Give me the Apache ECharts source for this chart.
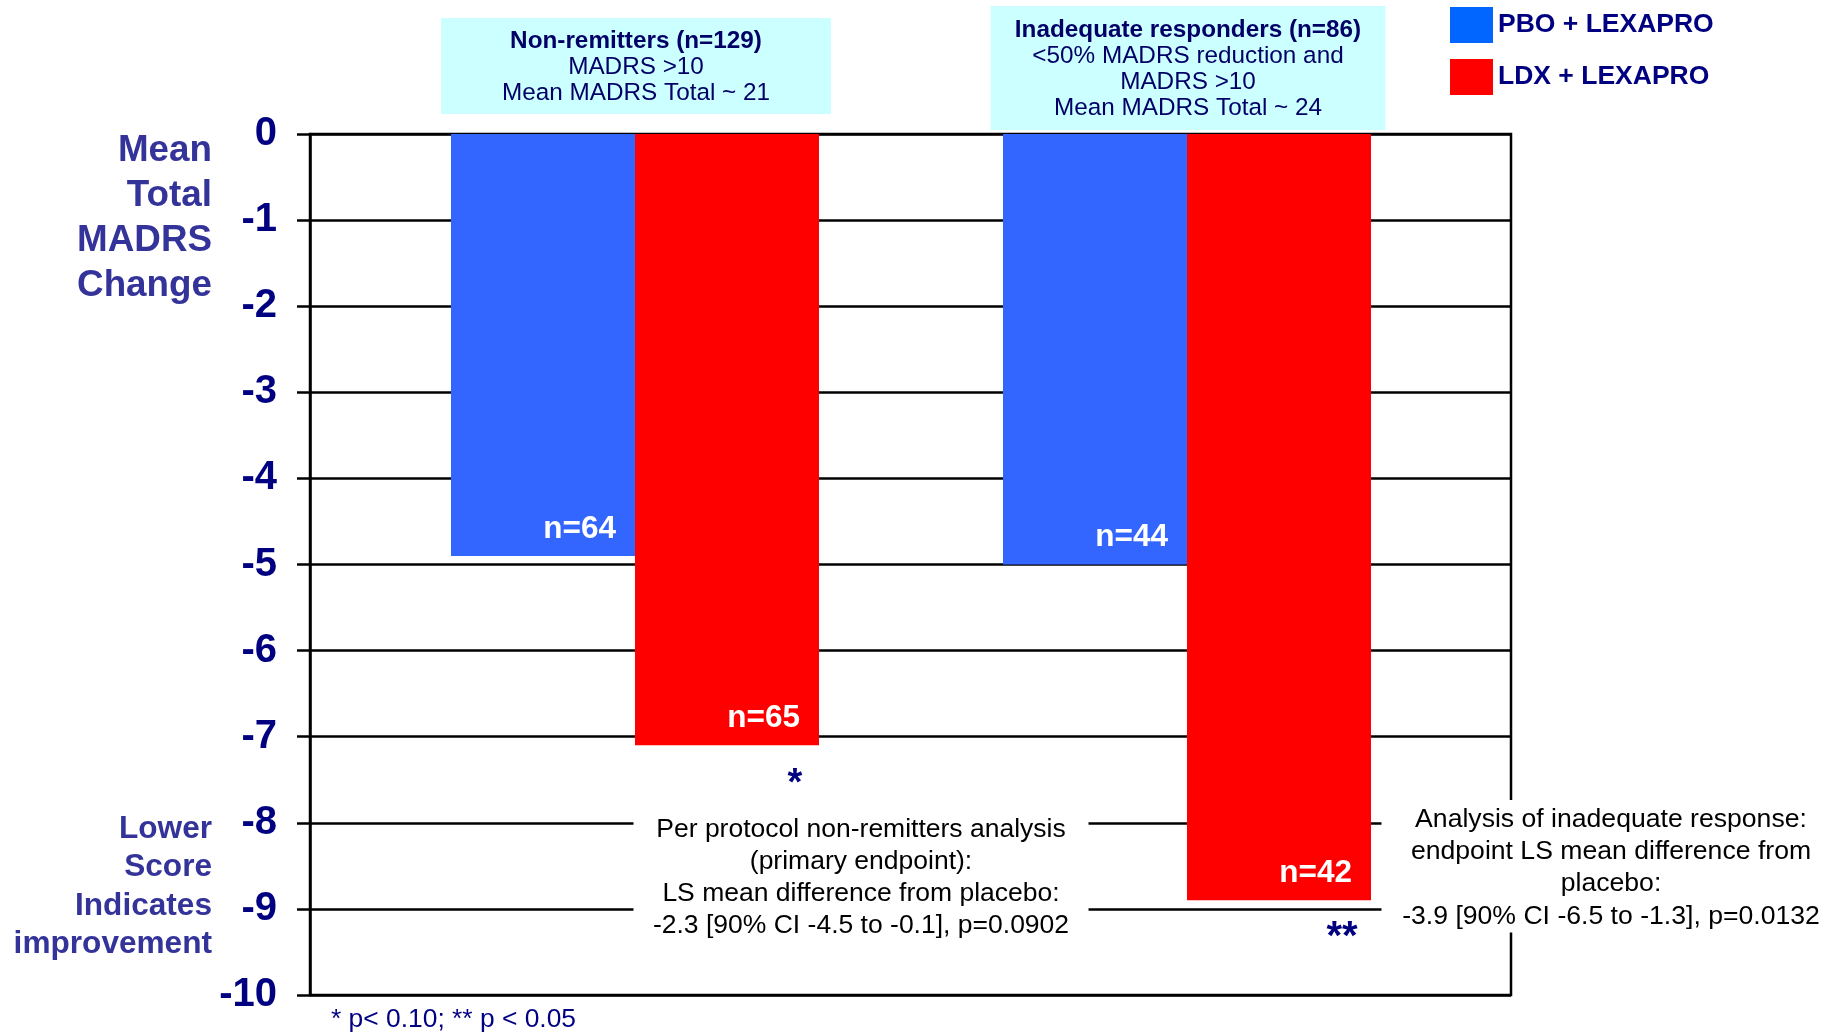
<!DOCTYPE html>
<html>
<head>
<meta charset="utf-8">
<title>Mean Total MADRS Change</title>
<script src="https://cdn.jsdelivr.net/npm/echarts@6/dist/echarts.min.js"></script>
<style>
  html, body { margin: 0; padding: 0; background: #fff; }
  #chart { width: 1833px; height: 1033px; }
</style>
</head>
<body>
<div id="chart"></div>
<script>
// data
const categories = ['Non-remitters', 'Inadequate responders']
const seriesNames = ['PBO + LEXAPRO', 'LDX + LEXAPRO']
const pboValues = [-4.9, -5.0]
const ldxValues = [-7.1, -8.9]
const pboCounts = [64, 44]
const ldxCounts = [65, 42]
const yMin = -10
const yMax = 0
const yStep = 1

const font = '"Liberation Sans", Arial, sans-serif'
const navy = '#000080'
const nameBlue = '#333399'
const barBlue = '#3366ff'
const legendBlue = '#0066ff'
const red = '#ff0000'

const chart = echarts.init(document.getElementById('chart'))

function barLabel(counts) {
  return {
    show: true,
    position: 'insideBottomRight',
    distance: 11,
    offset: [-8, 0],
    color: '#fff',
    fontFamily: font,
    fontWeight: 'bold',
    fontSize: 31.5,
    formatter: p => 'n=' + counts[p.dataIndex]
  }
}

function textBox(x, y, text, opts) {
  return {
    type: 'text',
    x: x,
    y: y,
    z: 100,
    style: Object.assign({
      text: text,
      align: 'center',
      verticalAlign: 'top',
      fontFamily: font,
      fill: '#000'
    }, opts)
  }
}

const boxRich = { b: { fontWeight: 'bold', fontSize: 24.3, lineHeight: 26, fill: '#000066', fontFamily: font } }

const option = {
  backgroundColor: '#fff',
  animation: false,
  textStyle: { fontFamily: font },
  legend: {
    orient: 'vertical',
    left: 1445,
    top: 2,
    itemWidth: 43,
    itemHeight: 36,
    itemGap: 16,
    icon: 'rect',
    textStyle: { color: navy, fontSize: 26.5, fontWeight: 'bold', fontFamily: font },
    data: [
      { name: seriesNames[0], itemStyle: { color: legendBlue } },
      { name: seriesNames[1], itemStyle: { color: red } }
    ]
  },
  grid: [
    // frame with gridlines
    { left: 310, right: 322, top: 134, bottom: 38, show: true, borderColor: '#000', borderWidth: 2.5, backgroundColor: 'transparent' },
    // bars
    { left: 359, right: 370, top: 134, bottom: 38 }
  ],
  xAxis: [
    { gridIndex: 0, type: 'value', min: 0, max: 1, show: false },
    { gridIndex: 1, type: 'category', data: categories, show: false }
  ],
  yAxis: [
    {
      gridIndex: 0,
      type: 'value',
      min: yMin,
      max: yMax,
      interval: yStep,
      axisLine: { show: true, lineStyle: { color: '#000', width: 2.5 } },
      axisTick: { show: true, inside: false, length: 13, lineStyle: { color: '#000', width: 2.5 } },
      splitLine: { show: true, lineStyle: { color: '#000', width: 2.5 } },
      axisLabel: { color: navy, fontSize: 40, fontWeight: 'bold', fontFamily: font, margin: 33, padding: [6, 0, 0, 0] }
    },
    { gridIndex: 1, type: 'value', min: yMin, max: yMax, show: false }
  ],
  series: [
    {
      name: seriesNames[0],
      type: 'bar',
      xAxisIndex: 1,
      yAxisIndex: 1,
      data: pboValues,
      barWidth: 184,
      barGap: '0%',
      itemStyle: { color: barBlue },
      label: barLabel(pboCounts)
    },
    {
      name: seriesNames[1],
      type: 'bar',
      xAxisIndex: 1,
      yAxisIndex: 1,
      data: ldxValues,
      barWidth: 184,
      barGap: '0%',
      itemStyle: { color: red },
      label: barLabel(ldxCounts)
    }
  ],
  graphic: [
    textBox(636, 18, '{b|Non-remitters (n=129)}\nMADRS >10\nMean MADRS Total ~ 21', {
      width: 390, padding: [10, 0, 8, 0], backgroundColor: '#ccffff',
      fill: '#000066', fontSize: 24.3, lineHeight: 26, rich: boxRich
    }),
    textBox(1188, 6, '{b|Inadequate responders (n=86)}\n<50% MADRS reduction and\nMADRS >10\nMean MADRS Total ~ 24', {
      width: 395, padding: [11, 0, 9, 0], backgroundColor: '#ccffff',
      fill: '#000066', fontSize: 24.3, lineHeight: 26, rich: boxRich
    }),
    textBox(212, 128, 'Mean\nTotal\nMADRS\nChange', {
      align: 'right', fill: nameBlue, fontSize: 36.8, fontWeight: 'bold', lineHeight: 45
    }),
    textBox(212, 810, 'Lower\nScore\nIndicates\nimprovement', {
      align: 'right', fill: nameBlue, fontSize: 31.6, fontWeight: 'bold', lineHeight: 38.5
    }),
    textBox(861, 803, 'Per protocol non-remitters analysis\n(primary endpoint):\nLS mean difference from placebo:\n-2.3 [90% CI -4.5 to -0.1], p=0.0902', {
      width: 455, padding: [11, 0, 9, 0], backgroundColor: '#fff',
      fontSize: 26.5, lineHeight: 32
    }),
    textBox(1611, 800, 'Analysis of inadequate response:\nendpoint LS mean difference from\nplacebo:\n-3.9 [90% CI -6.5 to -1.3], p=0.0132', {
      width: 459, padding: [3, 0, 0, 0], backgroundColor: '#fff',
      fontSize: 26.6, lineHeight: 32.4
    }),
    textBox(795, 766, '*', { fill: navy, fontSize: 38, fontWeight: 'bold' }),
    textBox(1342, 918, '**', { fill: navy, fontSize: 40, fontWeight: 'bold' }),
    textBox(331, 1007, '* p< 0.10; ** p < 0.05', { align: 'left', fill: navy, fontSize: 26.4 })
  ]
}

chart.setOption(option)
</script>
</body>
</html>
